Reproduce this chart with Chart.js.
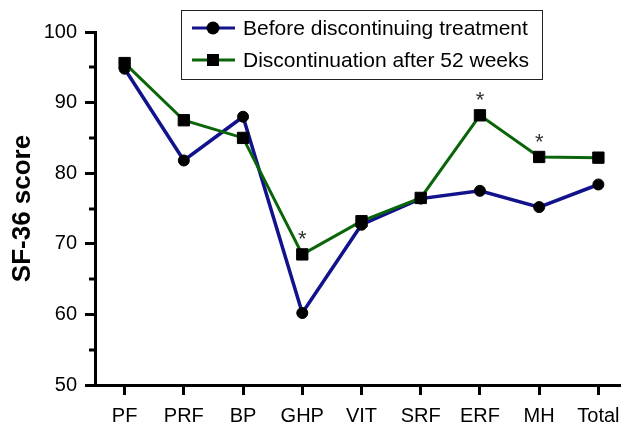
<!DOCTYPE html>
<html>
<head>
<meta charset="utf-8">
<script src="https://cdn.jsdelivr.net/npm/chart.js@4.4.1/dist/chart.umd.min.js"></script>
<style>
	html, body { margin: 0; padding: 0; background: #fff; overflow: hidden; }
</style>
</head>
<body>
<canvas id="sf36-chart" width="637" height="425"></canvas>
<script>
//
// SF-36 line chart
//

// Data
var categories = ['PF', 'PRF', 'BP', 'GHP', 'VIT', 'SRF', 'ERF', 'MH', 'Total'];
var beforeScores = [94.8, 81.8, 88.0, 60.2, 72.7, 76.4, 77.5, 75.2, 78.4];
var afterScores = [95.6, 87.5, 85.0, 68.5, 73.2, 76.5, 88.2, 82.3, 82.2];
var significant = ['GHP', 'ERF', 'MH'];
var minorTicks = [55, 65, 75, 85, 95];

var FONT = '"Liberation Sans", Arial, sans-serif';

// Boxed legend drawn inside the plot
var boxLegend = {
	id: 'boxLegend',
	afterDraw: function(chart) {
		var ctx = chart.ctx;
		var sets = chart.data.datasets;
		ctx.save();
		ctx.fillStyle = '#fff';
		ctx.fillRect(181, 10, 361, 69);
		ctx.strokeStyle = '#222';
		ctx.lineWidth = 1;
		ctx.strokeRect(181.5, 10.5, 361, 69);
		sets.forEach(function(ds, i) {
			var y = 28 + 32 * i;
			ctx.strokeStyle = ds.borderColor;
			ctx.lineWidth = 3;
			ctx.beginPath();
			ctx.moveTo(192, y);
			ctx.lineTo(235, y);
			ctx.stroke();
			ctx.fillStyle = '#000';
			if (ds.pointStyle === 'rect') {
				ctx.fillRect(207, y - 6, 12, 12);
			} else {
				ctx.beginPath();
				ctx.arc(213, y, 6.5, 0, Math.PI * 2);
				ctx.fill();
			}
			ctx.font = '21px ' + FONT;
			ctx.textBaseline = 'middle';
			ctx.fillText(ds.label, 243, y + 1);
		});
		ctx.restore();
	}
};

// Short minor ticks on the y axis
var minorTickMarks = {
	id: 'minorTickMarks',
	afterDraw: function(chart) {
		var ctx = chart.ctx;
		var yScale = chart.scales.y;
		var left = chart.chartArea.left;
		ctx.save();
		ctx.strokeStyle = '#000';
		ctx.lineWidth = 3;
		minorTicks.forEach(function(v) {
			var py = Math.round(yScale.getPixelForValue(v));
			ctx.beginPath();
			ctx.moveTo(left - 6, py);
			ctx.lineTo(left, py);
			ctx.stroke();
		});
		ctx.restore();
	}
};

// Asterisks above significant points
var starMarks = {
	id: 'starMarks',
	afterDatasetsDraw: function(chart) {
		var ctx = chart.ctx;
		ctx.save();
		ctx.fillStyle = '#333';
		ctx.font = '22px ' + FONT;
		ctx.textAlign = 'center';
		ctx.textBaseline = 'alphabetic';
		significant.forEach(function(cat) {
			var i = categories.indexOf(cat);
			var px = chart.scales.x.getPixelForValue(i);
			var py = chart.scales.y.getPixelForValue(afterScores[i]);
			ctx.fillText('*', px, py - 8);
		});
		ctx.restore();
	}
};

var axisGrid = {
	display: true,
	drawOnChartArea: false,
	drawTicks: true,
	tickLength: 10,
	tickWidth: 3,
	tickColor: '#000',
	color: '#000'
};

var sfChart = new Chart(document.getElementById('sf36-chart'), {
	type: 'line',
	data: {
		labels: categories,
		datasets: [{
			label: 'Before discontinuing treatment',
			data: beforeScores,
			borderColor: '#12128c',
			borderWidth: 3.5,
			pointStyle: 'circle',
			pointRadius: 5.5,
			pointBorderWidth: 1,
			pointBackgroundColor: '#000',
			pointBorderColor: '#000',
			fill: false,
			tension: 0,
			order: 1
		}, {
			label: 'Discontinuation after 52 weeks',
			data: afterScores,
			borderColor: '#0a650a',
			borderWidth: 3,
			pointStyle: 'rect',
			pointRadius: 8,
			pointBorderWidth: 1,
			pointBackgroundColor: '#000',
			pointBorderColor: '#000',
			fill: false,
			tension: 0,
			order: 0
		}]
	},
	options: {
		responsive: false,
		animation: false,
		devicePixelRatio: 1,
		layout: {
			padding: { left: 0, top: 32, right: 0, bottom: 0 }
		},
		plugins: {
			legend: { display: false },
			tooltip: { enabled: false }
		},
		scales: {
			x: {
				type: 'category',
				offset: true,
				grid: axisGrid,
				border: { display: true, width: 3, color: '#000' },
				ticks: {
					color: '#000',
					font: { size: 20, family: FONT },
					padding: 9,
					maxRotation: 0,
					autoSkip: false
				},
				afterFit: function(scale) {
					scale.height = 40;
					scale.paddingLeft = 0;
					scale.paddingRight = 0;
				}
			},
			y: {
				min: 50,
				max: 100,
				grid: axisGrid,
				border: { display: true, width: 3, color: '#000' },
				ticks: {
					stepSize: 10,
					color: '#000',
					font: { size: 20, family: FONT },
					padding: 8
				},
				title: {
					display: true,
					text: 'SF-36 score',
					color: '#000',
					font: { size: 26, weight: 'bold', family: FONT },
					padding: { top: 7, bottom: 0 }
				},
				afterFit: function(scale) { scale.width = 95; }
			}
		}
	},
	plugins: [minorTickMarks, starMarks, boxLegend]
});
</script>
</body>
</html>
